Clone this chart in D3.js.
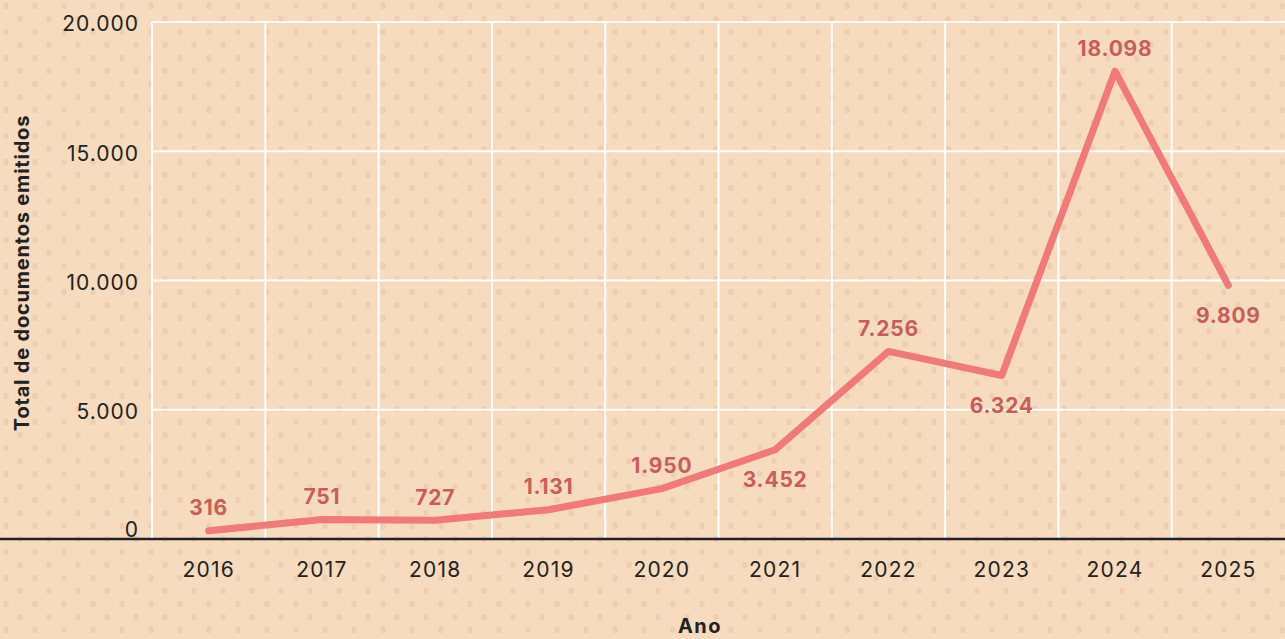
<!DOCTYPE html>
<html>
<head>
<meta charset="utf-8">
<script src="https://cdn.jsdelivr.net/npm/d3@7"></script>
<style>
  html, body { margin: 0; padding: 0; background: #f6dbbe; }
  svg { display: block; font-family: Inter, Lato, sans-serif; }
</style>
</head>
<body>
<svg id="chart"></svg>
<script>
// Documentos emitidos por ano

const years = ["2016", "2017", "2018", "2019", "2020", "2021", "2022", "2023", "2024", "2025"];
const totals = [316, 751, 727, 1131, 1950, 3452, 7256, 6324, 18098, 9809];
const labelSide = ["above", "above", "above", "above", "above", "below", "above", "below", "above", "below"];
const yTicks = [0, 5000, 10000, 15000, 20000];

(function () {
  const W = 1285, H = 639;
  const M = { top: 22, right: 0, bottom: 100, left: 152 };
  const innerW = W - M.left - M.right;
  const innerH = H - M.top - M.bottom;

  const BG = "#f6dbbe";
  const DOT = "#eecdb0";
  const LINE = "#ef7a78";
  const LABEL = "#c95d5c";
  const INK = "#222";

  const fmt = v => d3.format(",")(v).replace(/,/g, ".");
  const data = years.map((y, i) => ({ year: y, value: totals[i], side: labelSide[i] }));

  const svg = d3.select("#chart").attr("width", W).attr("height", H);

  // ---- background + dotted texture ----
  const defs = svg.append("defs");
  const pat = defs.append("pattern")
    .attr("id", "dots").attr("patternUnits", "userSpaceOnUse")
    .attr("width", 58).attr("height", 26);
  pat.append("rect").attr("width", 58).attr("height", 26).attr("fill", BG);
  [[6, 6], [35, 6], [20, 19], [49, 19]].forEach(([cx, cy]) => {
    pat.append("ellipse").attr("cx", cx).attr("cy", cy)
      .attr("rx", 2.6).attr("ry", 3.2).attr("fill", DOT);
  });
  svg.append("rect").attr("width", W).attr("height", H).attr("fill", "url(#dots)");

  const g = svg.append("g").attr("transform", `translate(${M.left},${M.top})`);

  const x = d3.scaleBand().domain(years).range([0, innerW]).padding(0);
  const y = d3.scaleLinear().domain([0, 20000]).range([innerH, 0]);

  // ---- gridlines ----
  g.append("g")
    .selectAll("line")
    .data(yTicks.filter(d => d > 0))
    .join("line")
    .attr("x1", 0).attr("x2", innerW)
    .attr("y1", d => y(d)).attr("y2", d => y(d))
    .attr("stroke", "#fff").attr("stroke-width", 2);

  g.append("g")
    .selectAll("line")
    .data(years)
    .join("line")
    .attr("x1", d => x(d)).attr("x2", d => x(d))
    .attr("y1", 0).attr("y2", innerH)
    .attr("stroke", "#fff").attr("stroke-width", 2);

  // ---- axes ----
  const yAxis = g.append("g")
    .call(d3.axisLeft(y).tickValues(yTicks).tickSize(0).tickPadding(13).tickFormat(fmt));
  yAxis.select(".domain").remove();
  yAxis.selectAll("text")
    .attr("font-size", 21).attr("fill", INK).attr("font-family", "Inter, sans-serif")
    .attr("letter-spacing", "1px")
    .attr("dy", d => d === 0 ? "-0.12em" : "0.42em");

  const xAxis = g.append("g")
    .attr("transform", `translate(0,${innerH})`)
    .call(d3.axisBottom(x).tickSize(0).tickPadding(23));
  xAxis.select(".domain").remove();
  xAxis.selectAll("text")
    .attr("font-size", 21).attr("fill", INK).attr("font-family", "Inter, sans-serif")
    .attr("letter-spacing", "1.2px");

  // baseline across the full width
  svg.append("line")
    .attr("x1", 0).attr("x2", W)
    .attr("y1", M.top + y(0)).attr("y2", M.top + y(0))
    .attr("stroke", INK).attr("stroke-width", 2.5);

  // ---- axis titles ----
  svg.append("text")
    .attr("x", 700).attr("y", 633)
    .attr("text-anchor", "middle")
    .attr("font-size", 20).attr("font-weight", 700).attr("fill", INK)
    .attr("letter-spacing", "1.5px")
    .text("Ano");

  svg.append("text")
    .attr("transform", `translate(29,${273}) rotate(-90)`)
    .attr("text-anchor", "middle")
    .attr("font-size", 20).attr("font-weight", 700).attr("fill", INK)
    .attr("letter-spacing", "0.8px")
    .text("Total de documentos emitidos");

  // ---- line ----
  const cx = d => x(d.year) + x.bandwidth() / 2;
  const line = d3.line().x(cx).y(d => y(d.value));

  g.append("path").datum(data)
    .attr("fill", "none").attr("stroke", LINE)
    .attr("stroke-width", 7)
    .attr("stroke-linejoin", "round").attr("stroke-linecap", "round")
    .attr("d", line);

  // ---- value labels ----
  g.selectAll("text.val")
    .data(data)
    .join("text")
    .attr("class", "val")
    .attr("x", cx)
    .attr("y", d => y(d.value) + (d.side === "above" ? -23 : 30))
    .attr("dy", "0.35em")
    .attr("text-anchor", "middle")
    .attr("font-size", 21).attr("font-weight", 700)
    .attr("letter-spacing", "0.8px")
    .attr("fill", LABEL)
    .text(d => fmt(d.value));
})();
</script>
</body>
</html>
